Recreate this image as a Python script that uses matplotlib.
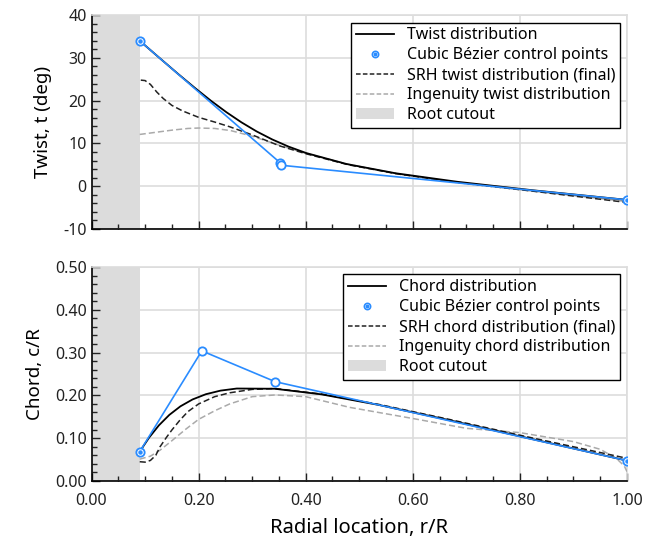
import matplotlib
matplotlib.use("Agg")
import matplotlib.pyplot as plt
from matplotlib.ticker import MultipleLocator, FormatStrFormatter
from matplotlib.patches import Patch
from matplotlib.lines import Line2D
from matplotlib.legend_handler import HandlerTuple

plt.rcParams['font.family'] = ['Noto Sans', 'DejaVu Sans']

root_cutout = 0.09

# twist (deg)
twist_r = [0.09, 0.1275, 0.1617, 0.1934, 0.2232, 0.2519, 0.2800, 0.3083, 0.3375,
           0.3681, 0.401, 0.4761, 0.5681, 0.6825, 0.8246, 1.0]
twist_t = [34.0, 29.93, 26.25, 22.94, 19.96, 17.30, 14.93, 12.81, 10.93,
           9.25, 7.75, 5.19, 3.02, 1.04, -0.96, -3.2]
twist_ctrl_r = [0.09, 0.352, 0.354, 1.0]
twist_ctrl_t = [34.0, 5.5, 4.9, -3.2]
srh_twist_r = [0.092, 0.100, 0.110, 0.122, 0.134, 0.150, 0.170, 0.200, 0.230, 0.258,
               0.300, 0.352, 0.400, 0.480, 0.570, 0.680, 0.820, 1.0]
srh_twist_t = [24.8, 24.7, 23.8, 22.0, 20.5, 18.9, 17.6, 16.1, 15.0, 13.9,
               12.0, 9.4, 7.6, 5.0, 2.9, 0.9, -1.1, -3.8]
ing_twist_r = [0.09, 0.12, 0.15, 0.18, 0.20, 0.23, 0.26, 0.30, 0.35, 0.40,
               0.48, 0.57, 0.68, 0.82, 1.0]
ing_twist_t = [12.1, 12.6, 13.1, 13.5, 13.6, 13.5, 13.0, 11.7, 9.6, 7.7,
               5.1, 2.9, 0.9, -1.1, -3.6]

# chord (c/R)
chord_r = [0.09, 0.1076, 0.1259, 0.1453, 0.1661, 0.1887, 0.2135, 0.2409, 0.2712,
           0.3421, 0.4293, 0.5356, 0.6642, 0.8180, 1.0]
chord_c = [0.0685, 0.1015, 0.1301, 0.1544, 0.1745, 0.1905, 0.2027, 0.2111, 0.2160,
           0.2155, 0.2024, 0.1779, 0.1431, 0.0993, 0.0475]
chord_ctrl_r = [0.09, 0.206, 0.343, 1.0]
chord_ctrl_c = [0.0685, 0.304, 0.232, 0.0475]
srh_chord_r = [0.09, 0.100, 0.110, 0.120, 0.128, 0.140, 0.150, 0.165, 0.180, 0.200,
               0.230, 0.258, 0.300, 0.343, 0.430, 0.536, 0.664, 0.818, 1.0]
srh_chord_c = [0.045, 0.044, 0.048, 0.060, 0.080, 0.102, 0.119, 0.142, 0.162, 0.180,
               0.197, 0.206, 0.214, 0.216, 0.203, 0.179, 0.145, 0.102, 0.053]
ing_chord_r = [0.09, 0.11, 0.128, 0.15, 0.175, 0.200, 0.230, 0.258, 0.300, 0.343,
               0.400, 0.482, 0.600, 0.700, 0.800, 0.900, 0.950, 0.980, 0.995, 1.0]
ing_chord_c = [0.051, 0.058, 0.072, 0.094, 0.120, 0.144, 0.164, 0.180, 0.197, 0.201,
               0.197, 0.172, 0.146, 0.123, 0.113, 0.092, 0.074, 0.053, 0.035, 0.022]

blue = '#2a8cff'
grey = '#dcdcdc'

fig = plt.figure(figsize=(6.57, 5.40), dpi=100)
ax1 = fig.add_axes([0.1393, 0.576, 0.815, 0.396])
ax2 = fig.add_axes([0.1393, 0.1093, 0.815, 0.3963])


def style_axis(ax, ymin, ymax, ymajor, yminor, fmt):
    ax.set_xlim(0, 1)
    ax.set_ylim(ymin, ymax)
    ax.xaxis.set_major_locator(MultipleLocator(0.2))
    ax.xaxis.set_minor_locator(MultipleLocator(0.05))
    ax.yaxis.set_major_locator(MultipleLocator(ymajor))
    ax.yaxis.set_minor_locator(MultipleLocator(yminor))
    ax.xaxis.set_major_formatter(FormatStrFormatter('%.2f'))
    ax.yaxis.set_major_formatter(FormatStrFormatter(fmt))
    ax.grid(True, which='major', color='#dddddd', linewidth=1.2, zorder=0)
    ax.tick_params(which='both', direction='in', top=False, right=False,
                   labelsize=11.5, colors='#222222')
    ax.tick_params(which='major', length=6, width=1)
    ax.tick_params(which='minor', length=3.5, width=1)
    ax.tick_params(axis='x', which='major', pad=9)
    for s in ('top', 'right'):
        ax.spines[s].set_color('#dddddd')
        ax.spines[s].set_linewidth(1.2)
    for s in ('left', 'bottom'):
        ax.spines[s].set_color('black')
        ax.spines[s].set_linewidth(1.2)
    ax.axvspan(0, root_cutout, color=grey, lw=0, zorder=1)


def draw(ax, r, v, cr, cv, sr, sv, ir, iv, names):
    ax.plot(ir, iv, color='#aaaaaa', lw=1.1, ls=(0, (4, 2)), zorder=3)
    ax.plot(sr, sv, color='#222222', lw=1.1, ls=(0, (4, 2)), zorder=3)
    ax.plot(r, v, color='black', lw=1.3, zorder=4)
    ax.plot(cr, cv, color=blue, lw=1.2, zorder=5)
    ax.plot(cr, cv, ls='none', marker='o', ms=6, mfc='white', mec=blue, mew=1.3, zorder=6)
    ax.plot([cr[0], cr[-1]], [cv[0], cv[-1]], ls='none', marker='o', ms=2.2,
            color=blue, zorder=7)
    h_line = Line2D([], [], color='black', lw=1.3)
    h_ring = Line2D([], [], ls='none', marker='o', ms=4.5, mfc='white', mec=blue, mew=1.2)
    h_dot = Line2D([], [], ls='none', marker='o', ms=1.8, color=blue)
    h_srh = Line2D([], [], color='#222222', lw=1.1, ls=(0, (3, 1.5)))
    h_ing = Line2D([], [], color='#aaaaaa', lw=1.1, ls=(0, (3, 1.5)))
    h_cut = Patch(facecolor=grey, edgecolor='none')
    leg = ax.legend([h_line, (h_ring, h_dot), h_srh, h_ing, h_cut], names,
                    handler_map={tuple: HandlerTuple(ndivide=1, pad=0)},
                    loc='upper right', bbox_to_anchor=(0.987, 0.965), numpoints=1,
                    fontsize=11.5, frameon=True, fancybox=False, framealpha=1,
                    edgecolor='black', borderpad=0.3, labelspacing=0.25,
                    handlelength=2.4, handletextpad=0.8, borderaxespad=0)
    leg.get_frame().set_linewidth(1.0)
    leg.set_zorder(10)


style_axis(ax1, -10, 40, 10, 2, '%d')
draw(ax1, twist_r, twist_t, twist_ctrl_r, twist_ctrl_t, srh_twist_r, srh_twist_t,
     ing_twist_r, ing_twist_t,
     ['Twist distribution', 'Cubic Bézier control points',
      'SRH twist distribution (final)', 'Ingenuity twist distribution', 'Root cutout'])
ax1.set_ylabel('Twist, t (deg)', fontsize=13.5, labelpad=8)
ax1.tick_params(axis='x', labelbottom=False)

style_axis(ax2, 0, 0.5, 0.1, 0.02, '%.2f')
draw(ax2, chord_r, chord_c, chord_ctrl_r, chord_ctrl_c, srh_chord_r, srh_chord_c,
     ing_chord_r, ing_chord_c,
     ['Chord distribution', 'Cubic Bézier control points',
      'SRH chord distribution (final)', 'Ingenuity chord distribution', 'Root cutout'])
ax2.set_ylabel('Chord, c/R', fontsize=13.5, labelpad=8)
ax2.set_xlabel('Radial location, r/R', fontsize=14.5, labelpad=6)

fig.savefig('out.png', dpi=100)
